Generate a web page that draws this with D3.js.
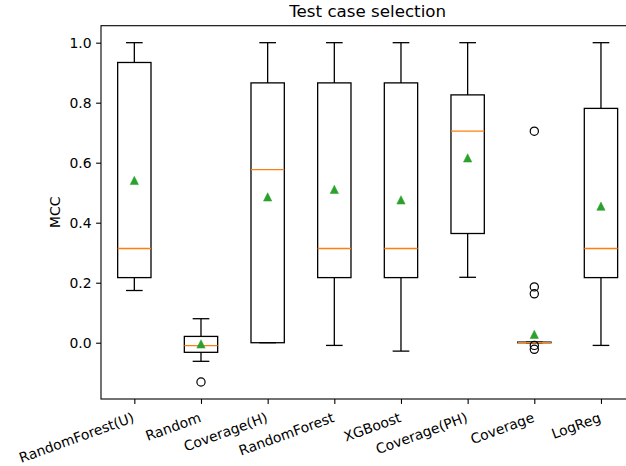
<!DOCTYPE html>
<html>
<head>
<meta charset="utf-8">
<script src="https://cdn.jsdelivr.net/npm/d3@7/dist/d3.min.js"></script>
<style>
  html, body { margin: 0; padding: 0; background: #fff; }
  svg { display: block; }
  text { font-family: "DejaVu Sans", sans-serif; fill: #000; }
</style>
</head>
<body>
<svg id="chart" width="626" height="466"></svg>
<script>
const categories = ["RandomForest(U)", "Random", "Coverage(H)", "RandomForest", "XGBoost", "Coverage(PH)", "Coverage", "LogReg"];
const whiskerLow  = [0.174, -0.062, 0.0,   -0.009, -0.028, 0.218, 0.0,   -0.009];
const q1Values    = [0.217, -0.032, 0.0,    0.217,  0.217, 0.364, 0.0,    0.217];
const medians     = [0.314, -0.010, 0.577,  0.314,  0.314, 0.705, 0.0,    0.314];
const q3Values    = [0.934,  0.021, 0.866,  0.866,  0.866, 0.826, 0.002,  0.781];
const whiskerHigh = [1.0,    0.080, 1.0,    1.0,    1.0,   1.0,   0.002,  1.0];
const means       = [0.541, -0.004, 0.486,  0.511,  0.476, 0.616, 0.028,  0.455];
const outliers    = [[], [-0.131], [], [], [], [], [0.705, 0.186, 0.163, -0.009, -0.022], []];
const yTicks      = [0.0, 0.2, 0.4, 0.6, 0.8, 1.0];
const title = "Test case selection";
const yLabel = "MCC";

const svg = d3.select("#chart");
const L = 101, R = 634.3, T = 25.7, B = 399;
const x = d3.scaleLinear().domain([0.5, categories.length + 0.5]).range([L, R]);
const y = d3.scaleLinear().domain([-0.1876, 1.0566]).range([B, T]);
const step = x(2) - x(1);
const boxW = step * 0.5, capW = step * 0.25;
const lw = 1.3;

const data = categories.map((c, i) => ({
  c, pos: i + 1, lo: whiskerLow[i], q1: q1Values[i], med: medians[i],
  q3: q3Values[i], hi: whiskerHigh[i], mean: means[i], out: outliers[i]
}));

const g = svg.append("g");
const boxes = g.selectAll("g.box").data(data).enter().append("g").attr("class", "box");
// whiskers
boxes.append("line").attr("x1", d => x(d.pos)).attr("x2", d => x(d.pos))
  .attr("y1", d => y(d.q1)).attr("y2", d => y(d.lo)).attr("stroke", "#000").attr("stroke-width", lw);
boxes.append("line").attr("x1", d => x(d.pos)).attr("x2", d => x(d.pos))
  .attr("y1", d => y(d.q3)).attr("y2", d => y(d.hi)).attr("stroke", "#000").attr("stroke-width", lw);
// caps
boxes.append("line").attr("x1", d => x(d.pos) - capW / 2).attr("x2", d => x(d.pos) + capW / 2)
  .attr("y1", d => y(d.lo)).attr("y2", d => y(d.lo)).attr("stroke", "#000").attr("stroke-width", lw);
boxes.append("line").attr("x1", d => x(d.pos) - capW / 2).attr("x2", d => x(d.pos) + capW / 2)
  .attr("y1", d => y(d.hi)).attr("y2", d => y(d.hi)).attr("stroke", "#000").attr("stroke-width", lw);
// box
boxes.append("rect").attr("x", d => x(d.pos) - boxW / 2).attr("width", boxW)
  .attr("y", d => y(d.q3)).attr("height", d => Math.max(0, y(d.q1) - y(d.q3)))
  .attr("fill", "none").attr("stroke", "#000").attr("stroke-width", lw);
// median
boxes.append("line").attr("x1", d => x(d.pos) - boxW / 2).attr("x2", d => x(d.pos) + boxW / 2)
  .attr("y1", d => y(d.med)).attr("y2", d => y(d.med)).attr("stroke", "#ff7f0e").attr("stroke-width", lw);
// outliers
boxes.selectAll("circle").data(d => d.out.map(v => ({ pos: d.pos, v }))).enter().append("circle")
  .attr("cx", d => x(d.pos)).attr("cy", d => y(d.v)).attr("r", 4.1)
  .attr("fill", "none").attr("stroke", "#000").attr("stroke-width", 1.2);
// means
const tri = 4.17;
boxes.append("path")
  .attr("d", d => {
    const cx = x(d.pos), cy = y(d.mean);
    return `M${cx},${cy - tri}L${cx - tri},${cy + tri}L${cx + tri},${cy + tri}Z`;
  })
  .attr("fill", "#2ca02c").attr("stroke", "#2ca02c").attr("stroke-width", 0.5);

// spines
svg.append("rect").attr("x", L).attr("y", T).attr("width", R - L).attr("height", B - T)
  .attr("fill", "none").attr("stroke", "#000").attr("stroke-width", 1.1);

// y axis
const yAxis = d3.axisLeft(y).tickValues(yTicks).tickFormat(d3.format(".1f")).tickSize(4.9).tickPadding(4.5);
const ya = svg.append("g").attr("transform", `translate(${L},0)`).call(yAxis);
ya.select(".domain").remove();
ya.selectAll(".tick line").attr("stroke", "#000").attr("stroke-width", 1.1);
ya.selectAll(".tick text").attr("font-size", "13.9px").attr("font-family", "DejaVu Sans").attr("fill", "#000");

// x axis
const xAxis = d3.axisBottom(x).tickValues(data.map(d => d.pos)).tickFormat((d, i) => categories[i]).tickSize(4.9);
const xa = svg.append("g").attr("transform", `translate(0,${B})`).call(xAxis);
xa.select(".domain").remove();
xa.selectAll(".tick line").attr("stroke", "#000").attr("stroke-width", 1.1);
const fs = 13.9, hgt = fs * 1.164, asc = fs * 0.93, ang = 20 * Math.PI / 180;
const px = -hgt * Math.sin(ang) + 1.5, py = 10.3;
xa.selectAll(".tick text")
  .attr("font-size", fs + "px").attr("font-family", "DejaVu Sans").attr("fill", "#000")
  .attr("text-anchor", "end").attr("dy", null)
  .attr("x", px).attr("y", py + asc)
  .attr("transform", `rotate(-20, ${px}, ${py})`);

// title
svg.append("text").attr("x", (L + R) / 2).attr("y", T - 8.3).attr("text-anchor", "middle")
  .attr("font-size", "16.7px").text(title);
// y label
svg.append("text").attr("transform", `translate(60,${(T + B) / 2}) rotate(-90)`)
  .attr("text-anchor", "middle").attr("font-size", "13.9px").text(yLabel);
</script>
</body>
</html>
